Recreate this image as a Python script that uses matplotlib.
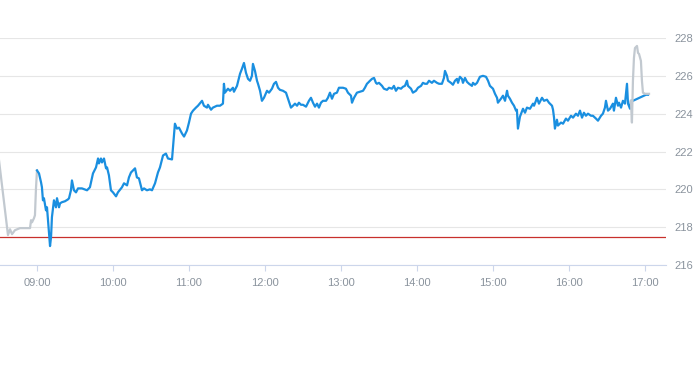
import matplotlib
matplotlib.use("Agg")
import matplotlib.pyplot as plt

# ---- data (minutes after 09:00, price) ----
pre_min = [-31, -22.9, -21.3, -19.7, -17.4, -13.4, -5.5, -4.7, -3.9, -2.4, -1.6, -0.8, 0]
pre_px = [222.1, 217.58, 217.89, 217.63, 217.84, 217.95, 217.95, 218.37, 218.26, 218.47, 218.63, 220.05, 221.00]

main_min = [0, 1.6, 3.2, 3.9, 4.7, 5.5, 7.1, 7.9, 8.7, 9.5, 10.3, 11.1, 11.8, 12.6, 13.4, 15.0, 15.8, 17.4, 18.2, 19.7,
            22.1, 24.5, 25.3, 26.8, 27.6, 29.2, 30.8, 32.4, 35.5, 39.5, 41.8, 44.2, 46.6, 48.2, 48.9, 50.5, 51.3, 52.9,
            54.5, 55.3, 56.8, 58.4, 60.0, 62.4, 63.9, 67.1, 68.7, 71.1, 72.6, 74.2, 75.8, 77.4, 78.9, 80.5, 82.9, 84.5,
            86.8, 89.2, 90.8, 93.2, 95.5, 97.1, 99.5, 101.8, 103.4, 106.6, 108.9, 110.5, 112.1, 114.5, 116.1, 118.4,
            120.0, 121.6, 123.2, 125.5, 127.1, 130.3, 131.8, 134.2, 135.0, 137.4, 138.9, 142.1, 144.5, 146.8, 147.6,
            148.4, 150.8, 152.4, 154.7, 155.5, 157.9, 160.3, 161.8, 163.4, 165.0, 166.6, 168.2, 169.7, 170.5, 172.1,
            173.7, 174.5, 176.1, 177.6, 179.2, 181.6, 183.2, 185.5, 187.1, 188.7, 190.3, 191.8, 194.2, 196.6, 198.2,
            200.5, 202.1, 203.7, 205.3, 206.8, 208.4, 210.0, 212.4, 214.7, 216.3, 217.9, 219.5, 221.1, 222.6, 224.2,
            225.8, 228.2, 229.7, 231.3, 232.9, 234.5, 236.8, 238.4, 241.6, 243.9, 245.5, 247.9, 248.7, 250.3, 252.6,
            255.0, 257.4, 258.9, 260.5, 261.3, 262.9, 264.5, 266.1, 267.6, 268.4, 270.0, 272.4, 273.9, 276.3, 277.9,
            280.3, 281.8, 283.4, 285.0, 287.4, 288.9, 290.5, 292.1, 292.9, 295.3, 296.8, 299.2, 300.8, 303.2, 304.7,
            306.3, 307.9, 309.5, 311.8, 313.4, 315.8, 317.4, 319.7, 321.3, 322.1, 323.7, 324.5, 326.8, 328.4, 330.0,
            331.6, 332.4, 333.9, 335.5, 336.3, 337.9, 339.5, 341.1, 343.4, 344.2, 345.8, 347.4, 349.7, 352.1, 354.5,
            356.1, 357.6, 359.2, 360.0, 361.6, 363.2, 363.9, 366.3, 367.9, 369.5, 371.1, 371.8, 373.4, 375.0, 376.6,
            378.2, 378.9, 379.7, 381.3, 383.7, 385.3, 386.8, 389.2, 391.6, 392.4, 393.9, 394.7, 396.3, 398.7, 400.3,
            402.6, 404.2, 406.6, 407.4, 408.2, 408.9, 410.5, 411.3, 413.7, 415.3, 417.6, 419.2, 421.6, 423.2, 425.5,
            427.1, 428.7, 430.3, 431.8, 433.4, 435.0, 437.4, 438.9, 441.3, 442.9, 445.3, 446.8, 448.4, 449.2, 450.8,
            452.4, 454.7, 455.5, 457.1, 458.7, 459.5, 461.1, 462.6, 464.2, 465.8, 466.6, 468.2, 468.9, 470.5, 480.8,
            482.4]
main_px = [221.00, 220.84, 220.37, 220.11, 219.42, 219.53, 218.89, 219.05, 218.37, 217.68, 217.00, 217.47, 218.53,
           219.00, 219.42, 219.05, 219.53, 219.05, 219.26, 219.32, 219.37, 219.47, 219.53, 219.95, 220.47, 219.95,
           219.84, 220.05, 220.05, 219.95, 220.11, 220.84, 221.16, 221.63, 221.37, 221.63, 221.42, 221.63, 221.11,
           221.16, 220.74, 219.95, 219.84, 219.63, 219.84, 220.11, 220.32, 220.21, 220.63, 220.89, 221.00, 221.11,
           220.63, 220.58, 219.95, 220.05, 219.95, 220.00, 219.95, 220.32, 220.89, 221.16, 221.79, 221.89, 221.63,
           221.58, 223.47, 223.21, 223.26, 222.95, 222.79, 223.11, 223.53, 224.00, 224.16, 224.32, 224.42, 224.68,
           224.42, 224.32, 224.47, 224.21, 224.32, 224.42, 224.42, 224.53, 225.58, 225.11, 225.32, 225.21, 225.37,
           225.16, 225.47, 226.11, 226.37, 226.68, 226.16, 225.84, 225.74, 226.00, 226.63, 226.26, 225.74, 225.58,
           225.21, 224.68, 224.84, 225.21, 225.11, 225.32, 225.58, 225.68, 225.37, 225.26, 225.21, 225.11, 224.79,
           224.32, 224.42, 224.53, 224.42, 224.58, 224.47, 224.47, 224.37, 224.68, 224.84, 224.58, 224.37, 224.53,
           224.32, 224.58, 224.68, 224.68, 224.84, 225.11, 224.79, 225.05, 225.11, 225.37, 225.37, 225.32, 225.11,
           224.95, 224.58, 224.84, 225.11, 225.16, 225.21, 225.37, 225.58, 225.63, 225.74, 225.84, 225.89, 225.63,
           225.58, 225.63, 225.47, 225.32, 225.26, 225.37, 225.32, 225.47, 225.21, 225.37, 225.32, 225.42, 225.47,
           225.74, 225.47, 225.32, 225.11, 225.21, 225.37, 225.47, 225.63, 225.58, 225.58, 225.74, 225.63, 225.74,
           225.63, 225.58, 225.58, 225.89, 226.26, 226.00, 225.74, 225.63, 225.53, 225.74, 225.84, 225.63, 225.95,
           225.84, 225.63, 225.89, 225.68, 225.58, 225.47, 225.63, 225.53, 225.63, 225.95, 226.00, 225.95, 225.74,
           225.47, 225.37, 225.32, 225.05, 224.84, 224.58, 224.79, 224.95, 224.68, 225.21, 224.95, 224.79, 224.58,
           224.42, 224.16, 224.21, 223.21, 223.84, 224.26, 224.05, 224.32, 224.26, 224.53, 224.42, 224.68, 224.84,
           224.53, 224.84, 224.68, 224.74, 224.58, 224.42, 224.21, 223.79, 223.21, 223.68, 223.37, 223.53, 223.47,
           223.74, 223.63, 223.89, 223.79, 224.00, 223.89, 224.16, 223.79, 224.05, 223.89, 224.00, 223.89, 223.89,
           223.74, 223.63, 223.89, 224.00, 224.32, 224.68, 224.16, 224.26, 224.53, 224.16, 224.84, 224.42, 224.58,
           224.32, 224.68, 224.53, 225.58, 224.53, 224.26, 224.68, 224.68, 225.00, 225.00]

post_min = [468.9, 469.7, 470.5, 471.3, 472.1, 473.7, 474.5, 475.3, 476.8, 477.6, 478.4, 480.0, 483.2]
post_px = [224.68, 223.53, 225.74, 226.95, 227.47, 227.58, 227.21, 227.16, 226.79, 225.74, 225.11, 225.05, 225.05]

prev_close = 217.47

x_tick_min = [0, 60, 120, 180, 240, 300, 360, 420, 480]
x_tick_labels = ["09:00", "10:00", "11:00", "12:00", "13:00", "14:00", "15:00", "16:00", "17:00"]
y_ticks = [216, 218, 220, 222, 224, 226, 228]

# ---- figure ----
W, H = 693, 365
fig = plt.figure(figsize=(W / 100, H / 100), dpi=100)
ax = fig.add_axes([0 / W, (H - 265) / H, 666 / W, 227 / H])

FONT = ["Liberation Sans", "DejaVu Sans"]
LABEL_C = "#8a939d"

ax.set_xlim(-29.2, 496.6)
ax.set_ylim(216, 228)

for v in y_ticks:
    ax.axhline(v, color="#e6e6e6", lw=0.8, zorder=0)
ax.axhline(prev_close, color="#c8302c", lw=0.9, zorder=1)

ax.plot(main_min, main_px, color="#1a8fe0", lw=1.6, solid_joinstyle="round", zorder=3)
ax.plot(pre_min, pre_px, color="#c2c9d0", lw=1.6, solid_joinstyle="round", zorder=2)
ax.plot(post_min, post_px, color="#c2c9d0", lw=1.6, solid_joinstyle="round", zorder=4)

for s in ["top", "left", "right"]:
    ax.spines[s].set_visible(False)
ax.spines["bottom"].set_color("#ccd6eb")
ax.spines["bottom"].set_linewidth(0.8)
ax.spines["bottom"].set_zorder(5)

ax.set_xticks(x_tick_min)
ax.set_xticklabels(x_tick_labels, fontfamily=FONT, fontsize=8, color=LABEL_C)
ax.tick_params(axis="x", length=4, width=0.8, color="#ccd6eb", pad=5)

ax.yaxis.tick_right()
ax.set_yticks(y_ticks)
ax.set_yticklabels([str(v) for v in y_ticks], fontfamily=FONT, fontsize=8, color=LABEL_C)
ax.tick_params(axis="y", length=0, pad=6)

fig.savefig("out.png", dpi=100, facecolor="white")
